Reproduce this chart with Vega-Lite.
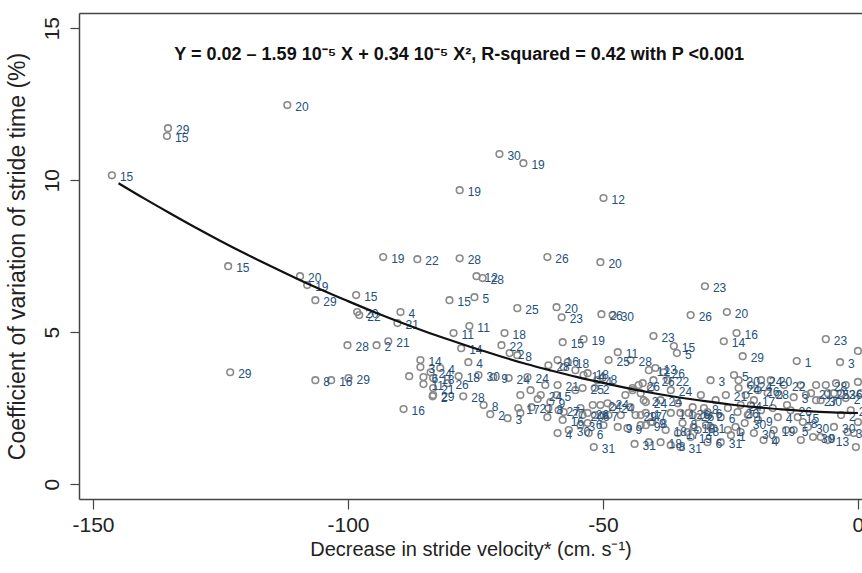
{
  "$schema": "https://vega.github.io/schema/vega-lite/v6.json",
  "autosize": "none",
  "width": 783,
  "height": 486,
  "padding": {"left": 79, "top": 13, "right": 0, "bottom": 74},
  "background": "white",
  "config": {"view": {"stroke": null}, "font": "Liberation Sans"},
  "datasets": {
    "pts": [
      {"x":-146.3,"y":10.16,"n":"15"},{"x":-135.3,"y":11.71,"n":"29"},{"x":-135.5,"y":11.45,"n":"15"},{"x":-111.9,"y":12.47,"n":"20"},{"x":-123.5,"y":7.17,"n":"15"},{"x":-123.1,"y":3.68,"n":"29"},{"x":-109.4,"y":6.84,"n":"20"},{"x":-108.0,"y":6.55,"n":"19"},{"x":-106.4,"y":6.05,"n":"29"},{"x":-98.4,"y":6.22,"n":"15"},{"x":-98.2,"y":5.66,"n":"20"},{"x":-97.8,"y":5.56,"n":"22"},{"x":-89.7,"y":5.66,"n":"4"},{"x":-90.3,"y":5.30,"n":"21"},{"x":-93.1,"y":7.47,"n":"19"},{"x":-86.4,"y":7.40,"n":"22"},{"x":-78.1,"y":7.43,"n":"28"},{"x":-74.8,"y":6.84,"n":"12"},{"x":-73.6,"y":6.78,"n":"28"},{"x":-80.1,"y":6.05,"n":"15"},{"x":-75.2,"y":6.15,"n":"5"},{"x":-66.8,"y":5.79,"n":"25"},{"x":-59.1,"y":5.82,"n":"20"},{"x":-58.1,"y":5.49,"n":"23"},{"x":-70.3,"y":10.86,"n":"30"},{"x":-65.6,"y":10.56,"n":"19"},{"x":-78.1,"y":9.67,"n":"19"},{"x":-60.9,"y":7.47,"n":"26"},{"x":-49.9,"y":9.41,"n":"12"},{"x":-50.5,"y":7.30,"n":"20"},{"x":-30.0,"y":6.51,"n":"23"},{"x":-32.8,"y":5.56,"n":"26"},{"x":-25.7,"y":5.66,"n":"20"},{"x":-50.3,"y":5.59,"n":"26"},{"x":-48.1,"y":5.56,"n":"30"},{"x":-57.9,"y":4.67,"n":"15"},{"x":-53.8,"y":4.77,"n":"19"},{"x":-40.1,"y":4.87,"n":"23"},{"x":-36.1,"y":4.54,"n":"15"},{"x":-35.5,"y":4.31,"n":"5"},{"x":-26.3,"y":4.70,"n":"14"},{"x":-23.8,"y":4.97,"n":"16"},{"x":-22.6,"y":4.21,"n":"29"},{"x":-12.0,"y":4.05,"n":"1"},{"x":-3.5,"y":4.01,"n":"3"},{"x":-6.3,"y":4.77,"n":"23"},{"x":0.0,"y":4.38,"n":"23"},
      {"x":-106.4,"y":3.42,"n":"8"},{"x":-103.3,"y":3.42,"n":"16"},{"x":-99.9,"y":3.49,"n":"29"},{"x":-100.1,"y":4.57,"n":"28"},{"x":-94.4,"y":4.57,"n":"2"},{"x":-92.1,"y":4.70,"n":"21"},{"x":-89.1,"y":2.47,"n":"16"},{"x":-88.0,"y":3.55,"n":""},{"x":-85.8,"y":4.08,"n":"14"},{"x":-85.8,"y":3.85,"n":"3"},{"x":-83.8,"y":3.68,"n":"24"},{"x":-85.2,"y":3.52,"n":"6"},{"x":-85.2,"y":3.29,"n":"11"},{"x":-83.3,"y":3.16,"n":"21"},{"x":-83.4,"y":2.89,"n":"2"},
      {"x":-76.2,"y":5.20,"n":"11"},{"x":-79.3,"y":4.97,"n":"11"},{"x":-77.8,"y":4.47,"n":"14"},{"x":-69.3,"y":4.97,"n":"18"},{"x":-69.9,"y":4.57,"n":"22"},{"x":-68.3,"y":4.31,"n":"2"},{"x":-66.8,"y":4.24,"n":"8"},{"x":-76.4,"y":4.01,"n":"4"},{"x":-78.3,"y":3.55,"n":"18"},{"x":-74.4,"y":3.59,"n":"30"},{"x":-71.5,"y":3.52,"n":"9"},{"x":-68.5,"y":3.49,"n":"24"},{"x":-64.8,"y":3.52,"n":"24"},{"x":-83.3,"y":3.49,"n":"18"},{"x":-83.3,"y":2.93,"n":"29"},{"x":-77.4,"y":2.89,"n":"28"},{"x":-73.4,"y":2.60,"n":"8"},{"x":-72.1,"y":2.30,"n":"2"},{"x":-68.7,"y":2.17,"n":"3"},{"x":-66.6,"y":2.50,"n":"17"},{"x":-66.2,"y":2.34,"n":""},{"x":-64.0,"y":2.53,"n":"21"},{"x":-62.8,"y":2.80,"n":""},{"x":-62.2,"y":2.93,"n":"24"},{"x":-60.9,"y":2.20,"n":""},{"x":-60.7,"y":2.50,"n":"8"},{"x":-60.3,"y":2.70,"n":"9"},{"x":-60.7,"y":3.91,"n":"28"},{"x":-61.3,"y":3.26,"n":""},{"x":-59.1,"y":2.93,"n":"5"},{"x":-58.9,"y":3.26,"n":"21"},{"x":-58.9,"y":4.08,"n":"16"},{"x":-57.7,"y":3.85,"n":""},{"x":-56.9,"y":4.01,"n":"18"},{"x":-55.4,"y":3.75,"n":""},{"x":-53.8,"y":3.59,"n":"14"},{"x":-53.0,"y":3.65,"n":"18"},{"x":-51.6,"y":3.16,"n":"2"},{"x":-51.1,"y":3.42,"n":"4"},{"x":-50.1,"y":3.49,"n":"8"},{"x":-54.0,"y":3.16,"n":"25"},{"x":-58.7,"y":2.43,"n":"27"},{"x":-57.9,"y":2.11,"n":"16"},{"x":-58.9,"y":1.68,"n":"4"},{"x":-56.7,"y":1.78,"n":"30"},{"x":-54.4,"y":2.50,"n":""},{"x":-54.0,"y":2.27,"n":"20"},{"x":-54.4,"y":1.94,"n":"3"},{"x":-53.0,"y":2.01,"n":"6"},{"x":-51.6,"y":2.27,"n":"6"},{"x":-50.5,"y":2.60,"n":"24"},{"x":-49.9,"y":2.27,"n":"7"},{"x":-48.9,"y":2.27,"n":""},{"x":-47.1,"y":1.88,"n":"9"},{"x":-48.1,"y":2.53,"n":"24"},{"x":-46.5,"y":2.27,"n":""},{"x":-51.8,"y":1.22,"n":"31"},{"x":-43.8,"y":1.32,"n":"31"},{"x":-47.1,"y":4.34,"n":"11"},{"x":-48.9,"y":4.08,"n":"25"},{"x":-44.6,"y":4.08,"n":"28"},{"x":-44.2,"y":3.16,"n":""},{"x":-43.0,"y":3.26,"n":"26"},{"x":-42.0,"y":2.76,"n":"2"},{"x":-42.6,"y":2.99,"n":""},
      {"x":-28.9,"y":3.42,"n":"3"},{"x":-24.3,"y":3.59,"n":"5"},{"x":-23.4,"y":3.42,"n":"20"},{"x":-23.4,"y":3.16,"n":"24"},{"x":-21.0,"y":3.26,"n":"24"},{"x":-19.6,"y":3.09,"n":"26"},{"x":-14.5,"y":3.26,"n":"22"},{"x":-12.6,"y":2.86,"n":"3"},{"x":-15.5,"y":2.93,"n":""},{"x":-41.0,"y":3.75,"n":"12"},{"x":-39.7,"y":3.82,"n":"13"},{"x":-38.1,"y":3.68,"n":"26"},{"x":-37.3,"y":3.42,"n":"22"},{"x":-40.1,"y":3.42,"n":"26"},{"x":-40.6,"y":3.16,"n":""},{"x":-36.7,"y":3.09,"n":"24"},{"x":-42.2,"y":3.32,"n":""},{"x":-44.2,"y":3.09,"n":""},{"x":-41.6,"y":2.70,"n":"24"},{"x":-44.6,"y":2.53,"n":""},{"x":-43.6,"y":2.27,"n":"29"},{"x":-41.6,"y":2.34,"n":"17"},{"x":-45.2,"y":1.84,"n":"9"},{"x":-41.6,"y":1.94,"n":"9"},{"x":-40.3,"y":2.04,"n":"8"},{"x":-38.7,"y":1.38,"n":"18"},{"x":-36.7,"y":1.28,"n":"8"},{"x":-34.8,"y":1.22,"n":"31"},{"x":-35.3,"y":2.66,"n":""},{"x":-34.8,"y":2.34,"n":"1"},{"x":-34.4,"y":2.01,"n":"8"},{"x":-32.4,"y":2.53,"n":""},{"x":-32.4,"y":2.27,"n":"26"},{"x":-32.2,"y":1.88,"n":"18"},{"x":-32.8,"y":1.55,"n":"19"},{"x":-29.5,"y":1.38,"n":"6"},{"x":-26.9,"y":1.38,"n":"31"},{"x":-30.2,"y":2.50,"n":"8"},{"x":-29.3,"y":2.27,"n":"2"},{"x":-28.9,"y":1.88,"n":"1"},{"x":-26.9,"y":2.20,"n":"6"},{"x":-25.5,"y":2.50,"n":""},{"x":-23.6,"y":2.37,"n":"26"},{"x":-24.0,"y":1.88,"n":""},{"x":-24.9,"y":1.61,"n":"1"},{"x":-22.2,"y":2.01,"n":"30"},{"x":-21.4,"y":2.27,"n":""},{"x":-20.4,"y":2.76,"n":"17"},{"x":-19.0,"y":2.43,"n":""},{"x":-19.6,"y":2.11,"n":"9"},{"x":-18.5,"y":1.45,"n":"4"},{"x":-17.7,"y":2.99,"n":"28"},{"x":-16.7,"y":2.50,"n":""},{"x":-15.7,"y":2.20,"n":"4"},{"x":-16.5,"y":1.78,"n":"19"},{"x":-13.2,"y":2.43,"n":"26"},{"x":-11.8,"y":2.20,"n":"15"},{"x":-10.8,"y":2.04,"n":"8"},{"x":-12.6,"y":1.78,"n":"5"},{"x":-9.8,"y":1.88,"n":"30"},{"x":-8.8,"y":1.55,"n":"30"},{"x":-7.3,"y":2.76,"n":"30"},{"x":-5.9,"y":2.99,"n":"25"},{"x":-4.7,"y":2.99,"n":"23"},{"x":-3.3,"y":2.99,"n":"26"},{"x":-7.3,"y":1.55,"n":"9"},{"x":-5.9,"y":1.45,"n":"13"},{"x":-4.7,"y":1.88,"n":"30"},{"x":-3.3,"y":2.27,"n":"2"},{"x":-1.4,"y":2.43,"n":"2"},{"x":-2.0,"y":1.71,"n":"30"},{"x":-0.8,"y":1.68,"n":""},{"x":-0.4,"y":1.22,"n":""},{"x":0.0,"y":3.36,"n":""},{"x":0.6,"y":2.99,"n":""},{"x":0.0,"y":2.04,"n":""},{"x":-41.0,"y":1.38,"n":""},{"x":-57.7,"y":2.37,"n":"27"},{"x":-53.0,"y":2.34,"n":"26"},{"x":-52.0,"y":2.60,"n":""},{"x":-49.1,"y":2.66,"n":"24"},{"x":-42.6,"y":2.27,"n":"17"},{"x":-40.6,"y":2.04,"n":"9"},{"x":-36.7,"y":2.34,"n":"1"},{"x":-33.2,"y":2.34,"n":"26"},{"x":-31.4,"y":2.20,"n":"2"},{"x":-29.5,"y":2.37,"n":"6"},{"x":-23.0,"y":1.71,"n":""},{"x":-20.4,"y":1.68,"n":"30"},{"x":-21.6,"y":2.27,"n":"1"},{"x":-23.0,"y":2.60,"n":"24"},{"x":-21.0,"y":2.60,"n":""},{"x":-31.4,"y":1.78,"n":"18"},{"x":-28.3,"y":1.84,"n":""},{"x":-25.5,"y":1.78,"n":"1"},{"x":-37.7,"y":1.78,"n":"18"},{"x":-35.3,"y":1.68,"n":"17"},{"x":-33.4,"y":1.71,"n":""},{"x":-42.6,"y":1.94,"n":""},{"x":-49.9,"y":1.94,"n":""},{"x":-52.8,"y":1.68,"n":"6"},
      {"x":-9.2,"y":2.99,"n":"21"},{"x":-8.2,"y":2.76,"n":"27"},{"x":-2.4,"y":2.83,"n":"2"},{"x":-11.2,"y":3.26,"n":""},{"x":-13.9,"y":2.60,"n":""},{"x":-81.9,"y":3.82,"n":"4"},{"x":-80.5,"y":3.32,"n":"26"},
      {"x":-45.6,"y":2.93,"n":""},{"x":-38.7,"y":2.76,"n":"24"},{"x":-30.8,"y":2.93,"n":""},{"x":-27.9,"y":2.76,"n":""},{"x":-25.9,"y":2.93,"n":"21"},{"x":-22.0,"y":2.93,"n":""},{"x":-19.0,"y":3.42,"n":"24"},{"x":-17.1,"y":3.42,"n":"20"},{"x":-10.2,"y":2.93,"n":""},{"x":-8.2,"y":3.26,"n":""},{"x":-6.3,"y":3.26,"n":"28"},{"x":-4.3,"y":3.32,"n":""},{"x":-2.4,"y":3.26,"n":""},{"x":-55.4,"y":3.09,"n":""},{"x":-66.2,"y":2.93,"n":""},{"x":-64.2,"y":3.09,"n":""},{"x":-29.8,"y":1.94,"n":""},{"x":-16.1,"y":1.45,"n":""},{"x":-14.1,"y":1.78,"n":""},{"x":-11.2,"y":1.45,"n":""}
    ],
    "fit": [
      {"x":-145,"y":9.90},{"x":-140,"y":9.40},{"x":-135,"y":8.92},{"x":-130,"y":8.45},{"x":-125,"y":8.00},{"x":-120,"y":7.57},{"x":-115,"y":7.16},{"x":-110,"y":6.76},{"x":-105,"y":6.38},{"x":-100,"y":6.02},{"x":-95,"y":5.67},{"x":-90,"y":5.34},{"x":-85,"y":5.03},{"x":-80,"y":4.74},{"x":-75,"y":4.46},{"x":-70,"y":4.20},{"x":-65,"y":3.95},{"x":-60,"y":3.73},{"x":-55,"y":3.52},{"x":-50,"y":3.33},{"x":-45,"y":3.15},{"x":-40,"y":2.99},{"x":-35,"y":2.85},{"x":-30,"y":2.73},{"x":-25,"y":2.62},{"x":-20,"y":2.53},{"x":-15,"y":2.46},{"x":-10,"y":2.40},{"x":-5,"y":2.36},{"x":0,"y":2.34}
    ],
    "note": [
      {"x":-78.2,"y":14.12,"t":"Y = 0.02 – 1.59 10⁻⁵ X + 0.34 10⁻⁵ X², R-squared = 0.42 with P <0.001"}
    ]
  },
  "resolve": {"axis": {"x": "independent"}},
  "layer": [
    {
      "data": {"name": "pts"},
      "mark": {"type": "point", "shape": "circle", "filled": false, "size": 44, "strokeWidth": 1.6, "color": "#8a8a8a", "opacity": 1},
      "encoding": {
        "x": {"field": "x", "type": "quantitative",
          "scale": {"domain": [-152.75, 0.8], "nice": false, "zero": false},
          "axis": {"orient": "bottom", "values": [-150, -100, -50, 0], "labelExpr": "replace(datum.label, '−', '-')", "grid": false, "tickSize": 10, "tickColor": "#444", "tickWidth": 1.2, "domainColor": "#444", "domainWidth": 1.5, "labelFontSize": 21, "labelColor": "#222", "labelPadding": 5, "labelFlush": false, "title": "Decrease in stride velocity* (cm. s⁻¹)", "titleFontSize": 20, "titleFontWeight": "normal", "titleColor": "#222", "titlePadding": 4}},
        "y": {"field": "y", "type": "quantitative",
          "scale": {"domain": [-0.49, 15.5], "nice": false, "zero": false},
          "axis": {"values": [0, 5, 10, 15], "grid": false, "tickSize": 9, "tickColor": "#444", "tickWidth": 1.2, "domainColor": "#444", "domainWidth": 1.5, "labelAngle": -90, "labelAlign": "center", "labelBaseline": "bottom", "labelFontSize": 21, "labelColor": "#222", "labelPadding": 8, "title": "Coefficient of variation of stride time (%)", "titleFontSize": 23, "titleFontWeight": "normal", "titleColor": "#222", "titlePadding": 12}}
      }
    },
    {
      "data": {"name": "pts"},
      "mark": {"type": "text", "align": "left", "baseline": "middle", "dx": 8, "dy": 2, "fontSize": 12, "color": "#24507c"},
      "encoding": {
        "x": {"field": "x", "type": "quantitative", "axis": null},
        "y": {"field": "y", "type": "quantitative"},
        "text": {"field": "n"}
      }
    },
    {
      "data": {"name": "fit"},
      "mark": {"type": "line", "color": "#111", "strokeWidth": 2.2, "interpolate": "monotone"},
      "encoding": {
        "x": {"field": "x", "type": "quantitative", "axis": {"orient": "top", "labels": false, "ticks": false, "title": null, "grid": false, "domainColor": "#444", "domainWidth": 1.5}},
        "y": {"field": "y", "type": "quantitative"}
      }
    },
    {
      "data": {"name": "note"},
      "mark": {"type": "text", "align": "center", "baseline": "middle", "fontSize": 18, "fontWeight": "bold", "color": "#111"},
      "encoding": {
        "x": {"field": "x", "type": "quantitative", "axis": null},
        "y": {"field": "y", "type": "quantitative"},
        "text": {"field": "t"}
      }
    }
  ]
}
